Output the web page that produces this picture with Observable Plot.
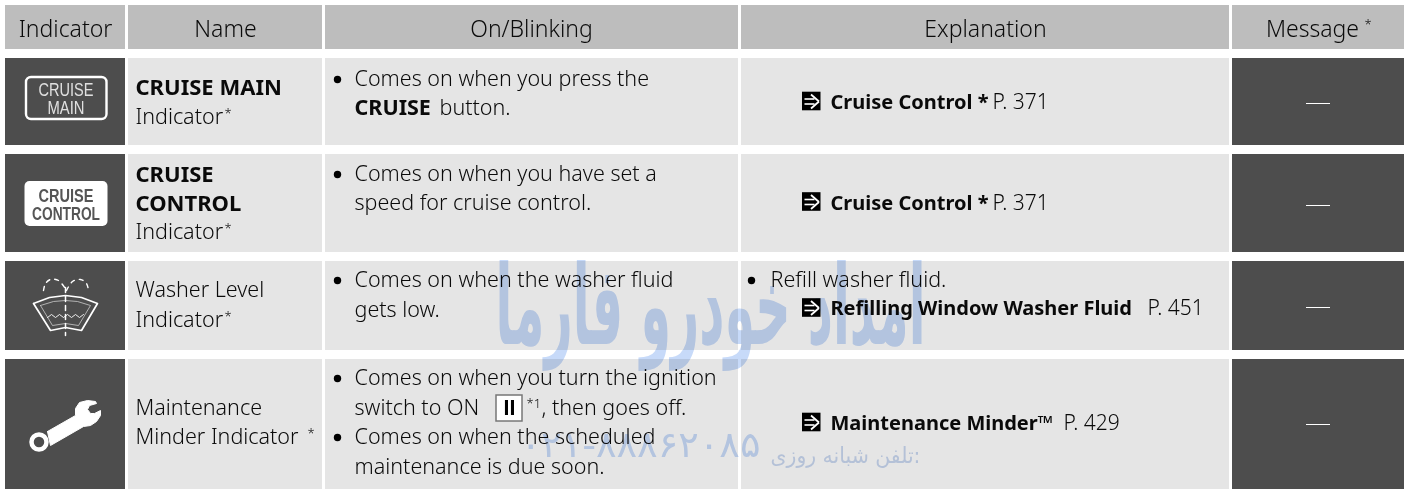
<!DOCTYPE html>
<html><head><meta charset="utf-8">
<script src="https://cdn.jsdelivr.net/npm/d3@7"></script>
<script src="https://cdn.jsdelivr.net/npm/@observablehq/plot@0.6"></script>
<style>html,body{margin:0;padding:0;background:#fff;overflow:hidden}svg{display:block}</style>
</head><body><div id="chart"></div>
<script>
// Table contents
const headers = ["Indicator", "Name", "On/Blinking", "Explanation", "Message"];
const nameRegular = ["Indicator", "Indicator", "Washer Level", "Indicator", "Maintenance", "Minder Indicator"];
const nameBold = ["CRUISE MAIN", "CRUISE", "CONTROL"];
const onRegular = ["Comes on when you press the", "button.", "Comes on when you have set a", "speed for cruise control.",
  "Comes on when the washer fluid", "gets low.", "Comes on when you turn the ignition", "switch to ON", ", then goes off.",
  "Comes on when the scheduled", "maintenance is due soon."];
const explainBold = ["Cruise Control *", "Cruise Control *", "Refilling Window Washer Fluid", "Maintenance Minder™"];
const explainPages = ["P. 371", "P. 371", "P. 451", "P. 429"];
const watermark = "امداد خودرو فارما";
const phoneLabel = "تلفن شبانه روزی:";
const phoneNumber = "۰۲۱-۸۸۸۶۲۰۸۵";

// Layout
const colL = [5, 128, 325, 741, 1232], colR = [125, 322, 738, 1229, 1404];
const rowT = [58, 154, 261, 359], rowB = [145, 252, 350, 489];
const headCx = [65, 225, 531, 985, 1312];
const nameRegY = [117, 232, 290, 320, 408, 437];
const nameBoldY = [87, 174, 203];
const onX = [354, 439, 354, 354, 354, 354, 354, 354, 541, 354, 354];
const onY = [79, 108, 174, 203, 280, 310, 378, 408, 408, 437, 467];
const bulletX = [337, 337, 337, 337, 337, 751], bulletY = [79, 174, 280, 378, 437, 280];
const arrowY = [101, 201.5, 307.5, 422];
const textY = [102, 203, 308, 423];
const pageX = [992, 992, 1147, 1063];
const dashY = [103, 205, 307, 424];
const stars = [[224, 113], [224, 228], [224, 316], [307, 433], [1364, 24]];

const cells = [];
rowT.forEach((t, r) => colL.forEach((l, c) => cells.push({x1: l, x2: colR[c], y1: t, y2: rowB[r], dark: c === 0 || c === 4})));
const heads = colL.map((l, c) => ({x1: l, x2: colR[c], y1: 5, y2: 49}));
const FONT = "Noto Sans";
const INK = "#0a0a0a";
const txt = (data, o) => Plot.text(data, {textAnchor: "start", fill: INK, fontFamily: FONT, fontSize: 21.5, fontWeight: 300, ...o});
// squeeze a text mark to a given run width (the reference's faces are narrower than the installed ones)
const fit = widths => (index, scales, values, dims, ctx, next) => {
  const g = next(index, scales, values, dims, ctx);
  g.querySelectorAll("text").forEach((t, i) => {
    t.setAttribute("textLength", widths[i]);
    t.setAttribute("lengthAdjust", "spacingAndGlyphs");
  });
  return g;
};
const pts = a => a.map(([x, y]) => ({x, y}));

const wrench = pts([[47,431],[75,415],[75,408],[79,402],[87,400],[95,401],[96,403],[89,405],[87,409],[90,413],[94,413],[100,410],[100,415],[96,421],[90,425],[83,426],[50,445]]);
const fanOuter = pts([[33,303],[49,297],[65,295],[81,297],[97,303],[81,330],[65,327],[50,330],[33,303]]);
const fanInner = pts([[40,305],[53,301],[65,300],[77,301],[90,305],[78,325],[65,323],[52,325],[40,305]]);
const fanWave = pts([[47,317],[51,314],[55,317],[59,314],[63,317],[67,314],[71,317],[75,314],[79,317],[83,314]]);
const sprayL = pts([[43,290],[45,283],[50,279],[58,280],[66,290]]);
const sprayR = pts([[66,290],[72,281],[80,279],[86,283],[88,290]]);
const wiperC = pts([[65,287],[65,335]]);

const chart = Plot.plot({
  width: 1404, height: 489, margin: 0,
  x: {domain: [0, 1404], range: [0, 1404], axis: null},
  y: {domain: [0, 489], range: [0, 489], axis: null},
  style: {background: "transparent"},
  marks: [
    Plot.rect(heads, {x1: "x1", x2: "x2", y1: "y1", y2: "y2", fill: "#bdbdbd"}),
    Plot.rect(cells, {x1: "x1", x2: "x2", y1: "y1", y2: "y2", fill: d => d.dark ? "#4d4d4d" : "#e5e5e5"}),
    Plot.text(headers, {x: (d, i) => headCx[i], y: 29, text: d => d, fontFamily: FONT, fontSize: 23, fontWeight: 300, fill: INK}),

    // name column
    txt(nameRegular, {x: 135, y: (d, i) => nameRegY[i], text: d => d}),
    txt(nameBold, {x: 135, y: (d, i) => nameBoldY[i], text: d => d, fontWeight: "bold", fontSize: 22}),
    txt(stars, {x: d => d[0], y: d => d[1], text: () => "*", fontSize: 13}),

    // on/blinking column
    Plot.dot(bulletX, {x: d => d, y: (d, i) => bulletY[i], r: 3.7, fill: "#000"}),
    txt(onRegular, {x: (d, i) => onX[i], y: (d, i) => onY[i], text: d => d}),
    txt(["CRUISE"], {x: 354, y: 108, text: d => d, fontWeight: "bold"}),
    Plot.rect([0], {x1: 496, x2: 522, y1: 395, y2: 421, fill: "#fff", stroke: "#777", strokeWidth: 1.5}),
    Plot.text(["II"], {x: 509, y: 408, text: d => d, fontFamily: "Liberation Sans", fontWeight: "bold", fontSize: 21.5, fill: "#000"}),
    txt(["*1"], {x: 526, y: 403, text: d => d, fontSize: 13}),

    // explanation column
    txt(["Refill washer fluid."], {x: 770, y: 280, text: d => d}),
    Plot.rect(arrowY, {x1: 802, x2: 820.5, y1: d => d - 9.3, y2: d => d + 9.3, fill: "#000"}),
    Plot.link(arrowY, {x1: 804, x2: 814, y1: d => d - 2.5, y2: d => d - 2.5, stroke: "#fff", strokeWidth: 1.6}),
    Plot.link(arrowY, {x1: 804, x2: 814, y1: d => d + 2.5, y2: d => d + 2.5, stroke: "#fff", strokeWidth: 1.6}),
    Plot.link(arrowY, {x1: 810.5, x2: 818.5, y1: d => d - 7, y2: d => d, stroke: "#fff", strokeWidth: 1.8}),
    Plot.link(arrowY, {x1: 810.5, x2: 818.5, y1: d => d + 7, y2: d => d, stroke: "#fff", strokeWidth: 1.8}),
    txt(explainBold, {x: 830, y: (d, i) => textY[i], text: d => d, fontWeight: "bold", fontSize: 20}),
    txt(explainPages, {x: (d, i) => pageX[i], y: (d, i) => textY[i], text: d => d, fontSize: 21}),

    // message column
    Plot.ruleY(dashY, {x1: 1306, x2: 1330, y: d => d, stroke: "#fff", strokeWidth: 1}),

    // CRUISE MAIN icon
    Plot.rect([0], {x1: 26, x2: 106.5, y1: 77, y2: 119, stroke: "#fff", strokeWidth: 2.4, fill: "none", rx: 5}),
    Plot.text(["CRUISE", "MAIN"], {x: 65.5, y: (d, i) => [89, 107][i], text: d => d, fontFamily: "Liberation Sans", fontSize: 19, fill: "#e0e0e0", render: fit([55, 37])}),
    // CRUISE CONTROL icon
    Plot.rect([0], {x1: 24.5, x2: 107.5, y1: 181, y2: 226, fill: "#fff", rx: 5}),
    Plot.text(["CRUISE", "CONTROL"], {x: 65.5, y: (d, i) => [195, 213][i], text: d => d, fontFamily: "Liberation Sans", fontWeight: "bold", fontSize: 19, fill: "#555", render: fit([55, 68])}),
    // washer icon
    Plot.line(fanOuter, {x: "x", y: "y", stroke: "#fff", strokeWidth: 1.7}),
    Plot.line(fanInner, {x: "x", y: "y", stroke: "#ccc", strokeWidth: 0.8}),
    Plot.line(fanWave, {x: "x", y: "y", stroke: "#fff", strokeWidth: 0.9}),
    Plot.line(sprayL, {x: "x", y: "y", stroke: "#fff", strokeWidth: 1.4, strokeDasharray: "4 5", curve: "catmull-rom"}),
    Plot.line(sprayR, {x: "x", y: "y", stroke: "#fff", strokeWidth: 1.4, strokeDasharray: "4 5", curve: "catmull-rom"}),
    Plot.line(wiperC, {x: "x", y: "y", stroke: "#fff", strokeWidth: 1.5, strokeDasharray: "5 4"}),
    // wrench icon
    Plot.line(wrench.concat(wrench[0]), {x: "x", y: "y", stroke: "#fff", fill: "#fff", strokeWidth: 1}),
    Plot.dot([{x: 38.5, y: 441.5}], {x: "x", y: "y", r: 7.5, stroke: "#fff", strokeWidth: 4.5, fill: "#4d4d4d"}),

    // watermark
    Plot.text([watermark], {x: 710, y: 308, text: d => d, fontFamily: "DejaVu Sans", fontWeight: "bold", fontSize: 110, fill: "#c7daf9", mixBlendMode: "multiply", render: fit([430])}),
    Plot.text([phoneLabel], {x: 845, y: 455, text: d => d, fontFamily: "DejaVu Sans", fontSize: 22, fill: "#c9d7f0", mixBlendMode: "multiply", render: fit([150])}),
    Plot.text([phoneNumber], {x: 640, y: 445, text: d => d, fontFamily: "DejaVu Sans", fontSize: 36, fill: "#c7daf9", mixBlendMode: "multiply", render: fit([240])})
  ]
});
document.getElementById("chart").append(chart);
</script></body></html>
